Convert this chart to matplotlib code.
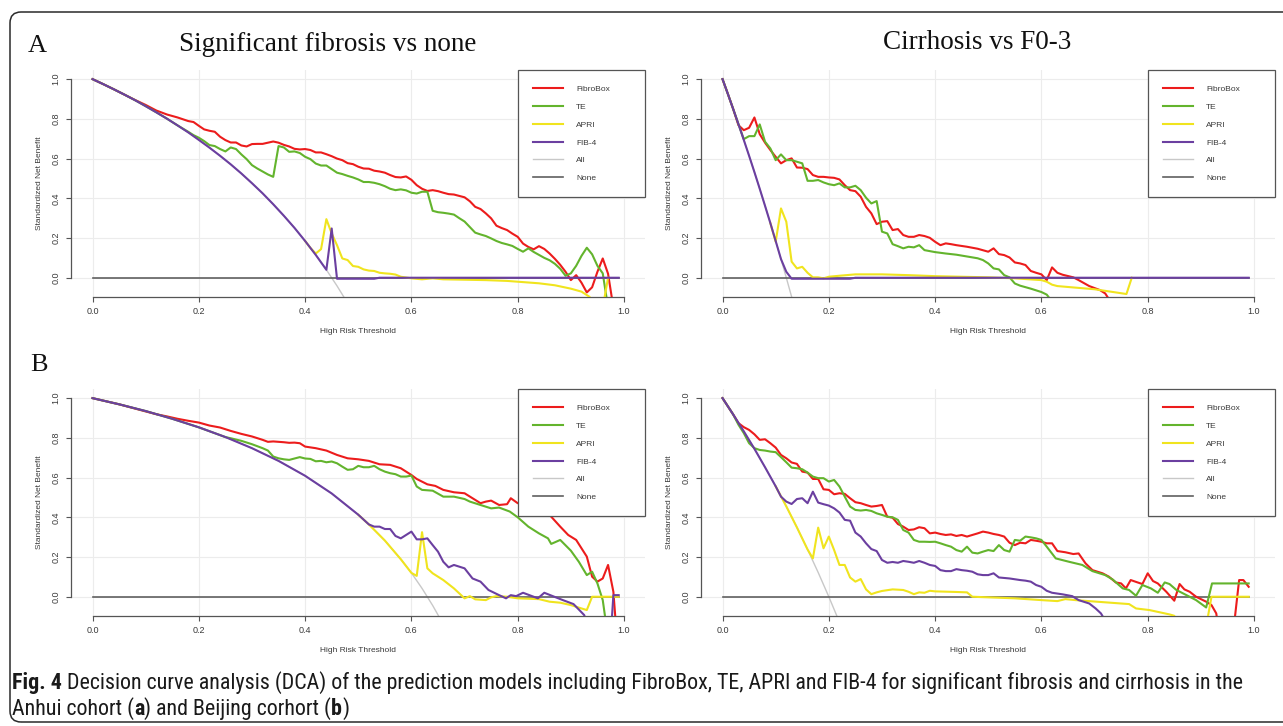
import matplotlib
matplotlib.use("Agg")
import matplotlib.pyplot as plt
from matplotlib import font_manager as fm
from matplotlib.patches import FancyBboxPatch
from matplotlib.transforms import IdentityTransform

# ---------------- DATA ----------------
SERIES = ["FibroBox", "TE", "APRI", "FIB-4", "All", "None"]
X_TICKS = [0.0, 0.2, 0.4, 0.6, 0.8, 1.0]
Y_TICKS = [0.0, 0.2, 0.4, 0.6, 0.8, 1.0]
NONE_X = [0.0, 0.99]
NONE_Y = [0.0, 0.0]

# Panel A, significant fibrosis vs none (Anhui)
AL_ALL_X = [0, 0.02, 0.04, 0.06, 0.08, 0.10, 0.12, 0.14, 0.16, 0.18, 0.20, 0.22, 0.24, 0.26, 0.28, 0.30, 0.32, 0.34, 0.36, 0.38, 0.40, 0.42, 0.44, 0.46, 0.48]
AL_ALL_Y = [1.0, 0.975, 0.949, 0.922, 0.894, 0.864, 0.833, 0.801, 0.767, 0.732, 0.694, 0.655, 0.614, 0.571, 0.525, 0.476, 0.425, 0.370, 0.312, 0.251, 0.185, 0.115, 0.040, -0.041, -0.128]
AL_FIBRO_X = [0, 0.02, 0.04, 0.06, 0.08, 0.10, 0.12, 0.14, 0.16, 0.18, 0.19, 0.20, 0.21, 0.22, 0.23, 0.24, 0.25, 0.26, 0.27, 0.28, 0.29, 0.30, 0.31, 0.32, 0.33, 0.34, 0.35, 0.36, 0.37, 0.38, 0.39, 0.40, 0.41, 0.42, 0.43, 0.44, 0.45, 0.46, 0.47, 0.48, 0.49, 0.50, 0.51, 0.52, 0.53, 0.54, 0.55, 0.56, 0.57, 0.58, 0.59, 0.60, 0.61, 0.62, 0.63, 0.64, 0.65, 0.66, 0.67, 0.68, 0.69, 0.70, 0.71, 0.72, 0.73, 0.74, 0.75, 0.76, 0.77, 0.78, 0.79, 0.80, 0.81, 0.82, 0.83, 0.84, 0.85, 0.86, 0.87, 0.88, 0.89, 0.90, 0.91, 0.92, 0.93, 0.94, 0.95, 0.96, 0.97, 0.98]
AL_FIBRO_Y = [1.0, 0.975, 0.949, 0.922, 0.895, 0.870, 0.842, 0.822, 0.807, 0.789, 0.784, 0.765, 0.747, 0.740, 0.735, 0.710, 0.693, 0.681, 0.681, 0.666, 0.661, 0.673, 0.674, 0.674, 0.680, 0.686, 0.680, 0.669, 0.661, 0.649, 0.646, 0.648, 0.643, 0.631, 0.631, 0.622, 0.612, 0.600, 0.592, 0.577, 0.572, 0.559, 0.550, 0.549, 0.539, 0.535, 0.529, 0.517, 0.507, 0.505, 0.510, 0.493, 0.466, 0.448, 0.437, 0.441, 0.436, 0.428, 0.421, 0.419, 0.412, 0.405, 0.385, 0.357, 0.346, 0.324, 0.299, 0.262, 0.250, 0.240, 0.222, 0.206, 0.172, 0.155, 0.143, 0.159, 0.145, 0.122, 0.095, 0.065, 0.030, -0.012, 0.013, -0.025, -0.074, -0.048, 0.030, 0.097, 0.020, -0.15]
AL_TE_X = [0, 0.02, 0.04, 0.06, 0.08, 0.10, 0.12, 0.14, 0.16, 0.18, 0.19, 0.20, 0.21, 0.22, 0.23, 0.24, 0.25, 0.26, 0.27, 0.28, 0.29, 0.30, 0.31, 0.32, 0.33, 0.34, 0.35, 0.36, 0.37, 0.38, 0.39, 0.40, 0.41, 0.42, 0.43, 0.44, 0.45, 0.46, 0.47, 0.48, 0.49, 0.50, 0.51, 0.52, 0.53, 0.54, 0.55, 0.56, 0.57, 0.58, 0.59, 0.60, 0.61, 0.62, 0.63, 0.64, 0.65, 0.66, 0.67, 0.68, 0.69, 0.70, 0.71, 0.72, 0.73, 0.74, 0.75, 0.76, 0.77, 0.78, 0.79, 0.80, 0.81, 0.82, 0.83, 0.84, 0.85, 0.86, 0.87, 0.88, 0.89, 0.90, 0.91, 0.92, 0.93, 0.94, 0.95, 0.96, 0.97]
AL_TE_Y = [1.0, 0.975, 0.949, 0.922, 0.894, 0.864, 0.833, 0.801, 0.767, 0.735, 0.718, 0.705, 0.688, 0.668, 0.663, 0.648, 0.636, 0.656, 0.648, 0.621, 0.597, 0.567, 0.550, 0.535, 0.520, 0.508, 0.663, 0.656, 0.634, 0.636, 0.628, 0.609, 0.597, 0.575, 0.565, 0.565, 0.547, 0.529, 0.522, 0.513, 0.505, 0.495, 0.482, 0.482, 0.478, 0.471, 0.461, 0.448, 0.441, 0.445, 0.440, 0.428, 0.424, 0.433, 0.433, 0.337, 0.330, 0.327, 0.323, 0.318, 0.300, 0.283, 0.255, 0.227, 0.218, 0.210, 0.198, 0.185, 0.175, 0.168, 0.160, 0.145, 0.131, 0.148, 0.130, 0.115, 0.100, 0.088, 0.070, 0.045, 0.010, 0.022, 0.060, 0.110, 0.151, 0.118, 0.060, 0.022, -0.15]
AL_APRI_X = [0.40, 0.41, 0.42, 0.43, 0.44, 0.45, 0.46, 0.47, 0.48, 0.49, 0.50, 0.51, 0.52, 0.53, 0.54, 0.55, 0.56, 0.57, 0.58, 0.60, 0.62, 0.64, 0.66, 0.70, 0.74, 0.78, 0.80, 0.84, 0.87, 0.90, 0.92, 0.935, 0.95, 0.96, 0.97]
AL_APRI_Y = [0.185, 0.150, 0.122, 0.144, 0.295, 0.223, 0.164, 0.097, 0.089, 0.059, 0.055, 0.042, 0.036, 0.034, 0.025, 0.022, 0.020, 0.016, 0.005, -0.003, -0.008, -0.003, -0.008, -0.010, -0.012, -0.016, -0.020, -0.028, -0.038, -0.055, -0.070, -0.096, -0.15, -0.15, 0.0]
AL_FIB4_X = [0, 0.02, 0.04, 0.06, 0.08, 0.10, 0.12, 0.14, 0.16, 0.18, 0.20, 0.22, 0.24, 0.26, 0.28, 0.30, 0.32, 0.34, 0.36, 0.38, 0.40, 0.42, 0.44, 0.45, 0.46, 0.53, 0.54, 0.99]
AL_FIB4_Y = [1.0, 0.975, 0.949, 0.922, 0.894, 0.864, 0.833, 0.801, 0.767, 0.732, 0.694, 0.655, 0.614, 0.571, 0.525, 0.476, 0.425, 0.370, 0.312, 0.251, 0.185, 0.115, 0.040, 0.248, -0.005, -0.005, 0.0, 0.0]

# Panel A, cirrhosis vs F0-3 (Anhui)
AR_ALL_X = [0, 0.01, 0.02, 0.03, 0.04, 0.05, 0.06, 0.07, 0.08, 0.09, 0.10, 0.11, 0.12, 0.13, 0.14]
AR_ALL_Y = [1.0, 0.926, 0.850, 0.773, 0.694, 0.614, 0.532, 0.448, 0.362, 0.275, 0.185, 0.094, 0.0, -0.096, -0.194]
AR_FIBRO_X = [0, 0.01, 0.02, 0.03, 0.04, 0.05, 0.06, 0.07, 0.08, 0.09, 0.10, 0.11, 0.12, 0.13, 0.14, 0.15, 0.16, 0.17, 0.18, 0.19, 0.20, 0.21, 0.22, 0.23, 0.24, 0.25, 0.26, 0.27, 0.28, 0.29, 0.30, 0.31, 0.32, 0.33, 0.34, 0.35, 0.36, 0.37, 0.38, 0.39, 0.40, 0.41, 0.42, 0.43, 0.44, 0.46, 0.48, 0.50, 0.51, 0.52, 0.53, 0.54, 0.55, 0.56, 0.57, 0.58, 0.59, 0.60, 0.61, 0.62, 0.63, 0.64, 0.66, 0.67, 0.69, 0.70, 0.71, 0.72, 0.73]
AR_FIBRO_Y = [1.0, 0.926, 0.850, 0.768, 0.743, 0.755, 0.807, 0.723, 0.680, 0.643, 0.609, 0.576, 0.592, 0.601, 0.555, 0.554, 0.547, 0.517, 0.508, 0.508, 0.505, 0.503, 0.495, 0.466, 0.441, 0.436, 0.408, 0.357, 0.324, 0.270, 0.282, 0.285, 0.240, 0.245, 0.215, 0.206, 0.206, 0.215, 0.210, 0.201, 0.181, 0.164, 0.173, 0.169, 0.164, 0.156, 0.146, 0.131, 0.148, 0.119, 0.114, 0.102, 0.077, 0.072, 0.064, 0.034, 0.025, 0.017, -0.012, 0.052, 0.025, 0.015, 0.002, -0.012, -0.042, -0.052, -0.062, -0.079, -0.12]
AR_TE_X = [0, 0.01, 0.02, 0.03, 0.04, 0.05, 0.06, 0.07, 0.08, 0.09, 0.10, 0.11, 0.12, 0.13, 0.14, 0.15, 0.16, 0.17, 0.18, 0.19, 0.20, 0.21, 0.22, 0.23, 0.24, 0.25, 0.26, 0.27, 0.28, 0.29, 0.30, 0.31, 0.32, 0.33, 0.34, 0.35, 0.36, 0.37, 0.38, 0.39, 0.40, 0.42, 0.44, 0.46, 0.48, 0.49, 0.50, 0.51, 0.52, 0.53, 0.54, 0.55, 0.56, 0.58, 0.60, 0.61, 0.62]
AR_TE_Y = [1.0, 0.926, 0.850, 0.773, 0.698, 0.713, 0.713, 0.772, 0.685, 0.651, 0.592, 0.621, 0.592, 0.592, 0.584, 0.576, 0.488, 0.488, 0.492, 0.480, 0.471, 0.466, 0.475, 0.455, 0.455, 0.463, 0.441, 0.403, 0.374, 0.386, 0.232, 0.223, 0.169, 0.159, 0.148, 0.156, 0.153, 0.164, 0.139, 0.134, 0.129, 0.122, 0.116, 0.107, 0.098, 0.089, 0.072, 0.047, 0.042, 0.013, 0.002, -0.029, -0.040, -0.055, -0.072, -0.085, -0.12]
AR_APRI_X = [0.09, 0.10, 0.11, 0.12, 0.13, 0.14, 0.15, 0.16, 0.17, 0.18, 0.19, 0.20, 0.22, 0.25, 0.30, 0.35, 0.40, 0.45, 0.50, 0.55, 0.60, 0.61, 0.62, 0.63, 0.70, 0.76, 0.77]
AR_APRI_Y = [0.275, 0.181, 0.349, 0.282, 0.081, 0.047, 0.055, 0.025, 0.002, 0.002, -0.003, 0.005, 0.010, 0.017, 0.017, 0.013, 0.008, 0.005, 0.002, -0.003, -0.012, -0.020, -0.035, -0.042, -0.058, -0.082, 0.0]
AR_FIB4_X = [0, 0.01, 0.02, 0.03, 0.04, 0.05, 0.06, 0.07, 0.08, 0.09, 0.10, 0.11, 0.12, 0.13, 0.24, 0.25, 0.99]
AR_FIB4_Y = [1.0, 0.926, 0.850, 0.773, 0.694, 0.614, 0.532, 0.448, 0.362, 0.275, 0.185, 0.094, 0.030, -0.005, -0.005, 0.0, 0.0]

# Panel B, significant fibrosis vs none (Beijing)
BL_ALL_X = [0, 0.05, 0.10, 0.15, 0.20, 0.25, 0.30, 0.35, 0.40, 0.45, 0.50, 0.52, 0.55, 0.58, 0.60, 0.62, 0.64, 0.66]
BL_ALL_Y = [1.0, 0.969, 0.935, 0.896, 0.853, 0.804, 0.748, 0.684, 0.609, 0.520, 0.413, 0.364, 0.283, 0.189, 0.120, 0.042, -0.044, -0.139]
BL_FIBRO_X = [0, 0.05, 0.10, 0.12, 0.14, 0.16, 0.18, 0.20, 0.22, 0.24, 0.26, 0.28, 0.30, 0.32, 0.33, 0.34, 0.36, 0.37, 0.38, 0.39, 0.40, 0.42, 0.44, 0.46, 0.48, 0.50, 0.52, 0.54, 0.56, 0.58, 0.60, 0.61, 0.63, 0.645, 0.66, 0.68, 0.70, 0.715, 0.73, 0.74, 0.75, 0.765, 0.78, 0.787, 0.80, 0.82, 0.84, 0.86, 0.88, 0.895, 0.91, 0.93, 0.94, 0.95, 0.96, 0.97, 0.98, 0.985]
BL_FIBRO_Y = [1.0, 0.969, 0.933, 0.919, 0.908, 0.896, 0.886, 0.877, 0.862, 0.852, 0.835, 0.820, 0.807, 0.790, 0.780, 0.782, 0.778, 0.775, 0.776, 0.773, 0.756, 0.748, 0.736, 0.714, 0.697, 0.692, 0.684, 0.667, 0.664, 0.647, 0.613, 0.593, 0.566, 0.558, 0.538, 0.526, 0.521, 0.496, 0.471, 0.479, 0.484, 0.462, 0.466, 0.496, 0.471, 0.462, 0.440, 0.412, 0.353, 0.311, 0.286, 0.202, 0.101, 0.076, 0.092, 0.160, 0.025, -0.15]
BL_TE_X = [0, 0.05, 0.10, 0.15, 0.20, 0.25, 0.26, 0.28, 0.30, 0.32, 0.33, 0.34, 0.35, 0.36, 0.37, 0.38, 0.39, 0.40, 0.41, 0.42, 0.43, 0.44, 0.45, 0.46, 0.47, 0.48, 0.49, 0.50, 0.51, 0.52, 0.53, 0.54, 0.55, 0.56, 0.57, 0.58, 0.59, 0.60, 0.61, 0.62, 0.64, 0.66, 0.68, 0.70, 0.71, 0.73, 0.75, 0.765, 0.785, 0.80, 0.82, 0.84, 0.857, 0.863, 0.88, 0.90, 0.915, 0.93, 0.94, 0.95, 0.96, 0.967]
BL_TE_Y = [1.0, 0.969, 0.935, 0.896, 0.853, 0.804, 0.798, 0.785, 0.768, 0.748, 0.736, 0.706, 0.697, 0.692, 0.689, 0.696, 0.703, 0.696, 0.694, 0.682, 0.684, 0.677, 0.681, 0.672, 0.655, 0.639, 0.642, 0.659, 0.652, 0.652, 0.659, 0.642, 0.630, 0.622, 0.617, 0.605, 0.605, 0.610, 0.555, 0.538, 0.534, 0.504, 0.504, 0.492, 0.479, 0.462, 0.445, 0.449, 0.429, 0.400, 0.353, 0.319, 0.294, 0.266, 0.286, 0.232, 0.176, 0.109, 0.126, 0.067, -0.017, -0.15]
BL_APRI_X = [0.50, 0.52, 0.55, 0.58, 0.60, 0.61, 0.62, 0.63, 0.64, 0.66, 0.68, 0.69, 0.70, 0.71, 0.72, 0.74, 0.75, 0.76, 0.78, 0.80, 0.84, 0.86, 0.88, 0.90, 0.92, 0.93, 0.94, 0.99]
BL_APRI_Y = [0.413, 0.364, 0.283, 0.189, 0.120, 0.105, 0.325, 0.143, 0.118, 0.084, 0.042, 0.017, -0.008, 0.003, -0.013, -0.017, -0.003, 0.003, 0.0, -0.008, -0.012, -0.025, -0.030, -0.042, -0.059, -0.067, 0.0, 0.0]
BL_FIB4_X = [0, 0.05, 0.10, 0.15, 0.20, 0.25, 0.30, 0.35, 0.40, 0.45, 0.50, 0.52, 0.53, 0.54, 0.55, 0.56, 0.57, 0.58, 0.59, 0.60, 0.61, 0.62, 0.63, 0.64, 0.65, 0.66, 0.67, 0.68, 0.70, 0.715, 0.73, 0.745, 0.765, 0.778, 0.787, 0.797, 0.81, 0.822, 0.838, 0.85, 0.866, 0.885, 0.905, 0.925, 0.94, 0.975, 0.98, 0.99]
BL_FIB4_Y = [1.0, 0.969, 0.935, 0.896, 0.853, 0.804, 0.748, 0.684, 0.609, 0.520, 0.413, 0.364, 0.353, 0.353, 0.341, 0.341, 0.306, 0.294, 0.311, 0.328, 0.289, 0.289, 0.294, 0.260, 0.227, 0.176, 0.148, 0.160, 0.143, 0.092, 0.076, 0.034, 0.008, -0.008, 0.008, 0.003, 0.020, 0.008, -0.008, 0.020, 0.003, -0.017, -0.037, -0.092, -0.2, -0.2, 0.008, 0.008]

# Panel B, cirrhosis vs F0-3 (Beijing)
BR_ALL_X = [0, 0.02, 0.04, 0.06, 0.08, 0.10, 0.12, 0.14, 0.16, 0.18, 0.20, 0.22]
BR_ALL_Y = [1.0, 0.918, 0.833, 0.745, 0.652, 0.556, 0.455, 0.349, 0.238, 0.122, 0.0, -0.128]
BR_FIBRO_X = [0, 0.02, 0.03, 0.04, 0.05, 0.06, 0.07, 0.08, 0.09, 0.10, 0.11, 0.12, 0.13, 0.14, 0.15, 0.16, 0.17, 0.18, 0.19, 0.20, 0.21, 0.22, 0.23, 0.24, 0.25, 0.26, 0.27, 0.28, 0.29, 0.30, 0.31, 0.32, 0.33, 0.34, 0.35, 0.36, 0.37, 0.38, 0.39, 0.40, 0.41, 0.42, 0.43, 0.44, 0.45, 0.46, 0.47, 0.48, 0.49, 0.50, 0.51, 0.52, 0.53, 0.54, 0.55, 0.56, 0.57, 0.58, 0.59, 0.60, 0.61, 0.62, 0.63, 0.645, 0.66, 0.67, 0.683, 0.696, 0.715, 0.727, 0.74, 0.75, 0.759, 0.768, 0.781, 0.79, 0.80, 0.81, 0.819, 0.835, 0.85, 0.86, 0.869, 0.879, 0.891, 0.91, 0.92, 0.929, 0.935, 0.96, 0.972, 0.98, 0.99]
BR_FIBRO_Y = [1.0, 0.918, 0.874, 0.854, 0.840, 0.818, 0.790, 0.793, 0.773, 0.751, 0.714, 0.697, 0.676, 0.669, 0.630, 0.625, 0.593, 0.593, 0.541, 0.538, 0.516, 0.521, 0.518, 0.496, 0.476, 0.471, 0.462, 0.454, 0.457, 0.462, 0.403, 0.398, 0.366, 0.353, 0.336, 0.339, 0.350, 0.345, 0.319, 0.323, 0.316, 0.311, 0.314, 0.306, 0.311, 0.303, 0.311, 0.319, 0.328, 0.323, 0.316, 0.311, 0.303, 0.272, 0.260, 0.272, 0.269, 0.286, 0.282, 0.277, 0.269, 0.269, 0.230, 0.224, 0.215, 0.218, 0.168, 0.134, 0.118, 0.101, 0.072, 0.067, 0.042, 0.084, 0.072, 0.064, 0.118, 0.079, 0.067, 0.025, -0.020, 0.064, 0.037, 0.025, 0.0, -0.025, -0.042, -0.084, -0.2, -0.2, 0.084, 0.084, 0.050]
BR_TE_X = [0, 0.02, 0.03, 0.04, 0.05, 0.06, 0.07, 0.08, 0.09, 0.10, 0.11, 0.12, 0.13, 0.14, 0.15, 0.16, 0.17, 0.18, 0.19, 0.20, 0.21, 0.22, 0.23, 0.24, 0.25, 0.26, 0.27, 0.28, 0.29, 0.30, 0.31, 0.32, 0.33, 0.34, 0.35, 0.36, 0.37, 0.38, 0.39, 0.40, 0.41, 0.42, 0.43, 0.44, 0.45, 0.46, 0.47, 0.48, 0.49, 0.50, 0.51, 0.52, 0.53, 0.54, 0.55, 0.56, 0.57, 0.58, 0.59, 0.60, 0.61, 0.627, 0.652, 0.677, 0.696, 0.72, 0.734, 0.753, 0.765, 0.778, 0.79, 0.806, 0.819, 0.832, 0.841, 0.854, 0.873, 0.891, 0.91, 0.921, 0.99]
BR_TE_Y = [1.0, 0.918, 0.866, 0.824, 0.773, 0.748, 0.739, 0.736, 0.731, 0.728, 0.703, 0.677, 0.650, 0.647, 0.642, 0.625, 0.605, 0.597, 0.597, 0.580, 0.588, 0.555, 0.504, 0.454, 0.437, 0.434, 0.437, 0.432, 0.420, 0.412, 0.403, 0.400, 0.387, 0.336, 0.323, 0.286, 0.277, 0.277, 0.276, 0.277, 0.269, 0.260, 0.252, 0.235, 0.227, 0.252, 0.222, 0.218, 0.227, 0.235, 0.230, 0.260, 0.235, 0.227, 0.286, 0.282, 0.303, 0.299, 0.294, 0.286, 0.252, 0.193, 0.176, 0.160, 0.129, 0.109, 0.087, 0.042, 0.034, 0.005, 0.059, 0.042, 0.020, 0.072, 0.064, 0.034, 0.008, -0.017, -0.054, 0.067, 0.067]
BR_APRI_X = [0.10, 0.12, 0.14, 0.16, 0.17, 0.18, 0.19, 0.20, 0.21, 0.22, 0.23, 0.24, 0.25, 0.26, 0.27, 0.28, 0.29, 0.30, 0.32, 0.34, 0.35, 0.36, 0.37, 0.38, 0.39, 0.40, 0.44, 0.46, 0.47, 0.50, 0.55, 0.60, 0.63, 0.645, 0.664, 0.765, 0.778, 0.803, 0.841, 0.85, 0.86, 0.91, 0.92, 0.99]
BR_APRI_Y = [0.556, 0.455, 0.349, 0.238, 0.193, 0.348, 0.244, 0.303, 0.235, 0.160, 0.160, 0.097, 0.076, 0.089, 0.037, 0.013, 0.022, 0.029, 0.037, 0.034, 0.025, 0.013, 0.022, 0.020, 0.030, 0.027, 0.024, 0.022, 0.0, -0.003, -0.008, -0.017, -0.022, -0.012, -0.017, -0.037, -0.059, -0.067, -0.089, -0.096, -0.15, -0.15, 0.0, 0.0]
BR_FIB4_X = [0, 0.02, 0.04, 0.06, 0.08, 0.10, 0.11, 0.12, 0.13, 0.14, 0.15, 0.16, 0.17, 0.18, 0.19, 0.20, 0.21, 0.22, 0.23, 0.24, 0.25, 0.26, 0.27, 0.28, 0.29, 0.30, 0.31, 0.32, 0.33, 0.34, 0.35, 0.36, 0.37, 0.38, 0.39, 0.40, 0.41, 0.42, 0.43, 0.44, 0.45, 0.46, 0.47, 0.48, 0.49, 0.50, 0.51, 0.52, 0.54, 0.56, 0.57, 0.58, 0.59, 0.60, 0.61, 0.62, 0.64, 0.658, 0.67, 0.69, 0.702, 0.712, 0.72]
BR_FIB4_Y = [1.0, 0.918, 0.833, 0.745, 0.652, 0.556, 0.504, 0.479, 0.467, 0.492, 0.496, 0.471, 0.529, 0.474, 0.466, 0.459, 0.445, 0.424, 0.387, 0.383, 0.323, 0.303, 0.269, 0.240, 0.230, 0.185, 0.171, 0.175, 0.171, 0.180, 0.176, 0.171, 0.180, 0.171, 0.160, 0.155, 0.134, 0.129, 0.129, 0.139, 0.134, 0.131, 0.126, 0.113, 0.109, 0.109, 0.118, 0.097, 0.092, 0.084, 0.081, 0.076, 0.059, 0.050, 0.030, 0.020, 0.012, 0.003, -0.017, -0.034, -0.059, -0.084, -0.12]

# ---------------- STYLE ----------------
COLORS = {"FibroBox": "#EC1C1C", "TE": "#63B42D", "APRI": "#F0E41E",
          "FIB-4": "#6B3FA0", "All": "#C8C8C8", "None": "#606060"}
W, H = 1283, 726
fig = plt.figure(figsize=(W / 100, H / 100), dpi=100)
fig.patch.set_facecolor("white")

SANS = ["Liberation Sans", "DejaVu Sans"]
SERIF = ["Liberation Serif", "DejaVu Serif"]
TXT = "#3a3a3a"

def px_axes(left, top, right, bottom):
    return fig.add_axes([left / W, 1 - bottom / H, (right - left) / W, (bottom - top) / H])

panels = [
    (px_axes(71, 70, 645, 297), AL_ALL_X, AL_ALL_Y, AL_FIBRO_X, AL_FIBRO_Y, AL_TE_X, AL_TE_Y,
     AL_APRI_X, AL_APRI_Y, AL_FIB4_X, AL_FIB4_Y),
    (px_axes(701, 70, 1275, 297), AR_ALL_X, AR_ALL_Y, AR_FIBRO_X, AR_FIBRO_Y, AR_TE_X, AR_TE_Y,
     AR_APRI_X, AR_APRI_Y, AR_FIB4_X, AR_FIB4_Y),
    (px_axes(71, 389, 645, 616), BL_ALL_X, BL_ALL_Y, BL_FIBRO_X, BL_FIBRO_Y, BL_TE_X, BL_TE_Y,
     BL_APRI_X, BL_APRI_Y, BL_FIB4_X, BL_FIB4_Y),
    (px_axes(701, 389, 1275, 616), BR_ALL_X, BR_ALL_Y, BR_FIBRO_X, BR_FIBRO_Y, BR_TE_X, BR_TE_Y,
     BR_APRI_X, BR_APRI_Y, BR_FIB4_X, BR_FIB4_Y),
]

for (ax, ax_x, ax_y, fx, fy, tx, ty, apx, apy, f4x, f4y) in panels:
    ax.set_xlim(-0.0405, 1.0395)
    ax.set_ylim(-0.097, 1.046)
    ax.set_xticks(X_TICKS)
    ax.set_yticks(Y_TICKS)
    ax.set_xticklabels([f"{v:.1f}" for v in X_TICKS])
    ax.set_yticklabels([f"{v:.1f}" for v in Y_TICKS])
    ax.grid(True, color="#ececec", linewidth=0.8)
    ax.set_axisbelow(True)
    for s in ("top", "right"):
        ax.spines[s].set_visible(False)
    for s in ("left", "bottom"):
        ax.spines[s].set_color("#555555")
        ax.spines[s].set_linewidth(0.9)
    ax.spines["left"].set_bounds(0, 1)
    ax.spines["bottom"].set_bounds(0, 1)
    ax.tick_params(axis="both", colors="#555555", labelcolor=TXT, length=3.6, width=0.8,
                   labelsize=6.5)
    ax.tick_params(axis="x", pad=3.5)
    ax.tick_params(axis="y", pad=4, labelrotation=90)
    for lab in ax.get_yticklabels():
        lab.set_va("center")
        lab.set_family(SANS)
    for lab in ax.get_xticklabels():
        lab.set_family(SANS)
    ax.set_xlabel("High Risk Threshold", fontsize=6, color=TXT, family=SANS, labelpad=9)
    ax.set_ylabel("Standardized Net Benefit", fontsize=6, color=TXT, family=SANS, labelpad=6)

    ax.plot(ax_x, ax_y, color=COLORS["All"], lw=1.0, label="All", zorder=2)
    ax.plot(NONE_X, NONE_Y, color=COLORS["None"], lw=1.2, label="None", zorder=2)
    ax.plot(fx, fy, color=COLORS["FibroBox"], lw=1.5, label="FibroBox", zorder=3)
    ax.plot(tx, ty, color=COLORS["TE"], lw=1.5, label="TE", zorder=3)
    ax.plot(apx, apy, color=COLORS["APRI"], lw=1.5, label="APRI", zorder=3)
    ax.plot(f4x, f4y, color=COLORS["FIB-4"], lw=1.5, label="FIB-4", zorder=4)

    handles, labels = ax.get_legend_handles_labels()
    order = [labels.index(s) for s in SERIES]
    leg = ax.legend([handles[i] for i in order], [labels[i] for i in order],
                    loc="upper left", bbox_to_anchor=(0.7787, 0.0, 0.2213, 1.0),
                    mode="expand", borderaxespad=0, fancybox=False, framealpha=1,
                    edgecolor="#555555", handlelength=3.5, handletextpad=1.6,
                    borderpad=1.85, labelspacing=1.19, prop={"family": SANS, "size": 6})
    leg.get_frame().set_linewidth(0.9)
    for t in leg.get_texts():
        t.set_color(TXT)
    leg.set_zorder(10)

# ---------------- TITLES ----------------
def ftext(xp, yp, s, **kw):
    return fig.text(xp / W, 1 - yp / H, s, **kw)

ftext(28, 52, "A", fontsize=19, family=SERIF, va="baseline", ha="left", color="#111111")
ftext(328, 51, "Significant fibrosis vs none", fontsize=19.5, family=SERIF, va="baseline",
      ha="center", color="#111111")
ftext(977, 49, "Cirrhosis vs F0-3", fontsize=19.5, family=SERIF, va="baseline",
      ha="center", color="#111111")
ftext(30, 371, "B", fontsize=19, family=SERIF, va="baseline", ha="left", color="#111111")

# ---------------- CAPTION ----------------
def pick_condensed():
    entries = fm.fontManager.ttflist
    names = {f.name for f in entries}
    for n in ["Liberation Sans Narrow", "Roboto Condensed", "Open Sans Condensed",
              "Noto Sans Condensed", "DejaVu Sans Condensed", "Arial Narrow"]:
        if n in names:
            return {"family": [n, "DejaVu Sans"]}
    for f in entries:
        st = str(f.stretch).lower()
        if ("condensed" in st or "narrow" in st) and "mono" not in f.name.lower() \
                and "serif" not in f.name.lower():
            return {"family": [f.name, "DejaVu Sans"], "fontstretch": f.stretch}
    for f in entries:
        if ("Condensed" in f.name or "Narrow" in f.name) and "Mono" not in f.name:
            return {"family": [f.name, "DejaVu Sans"]}
    return {"family": ["Liberation Sans", "DejaVu Sans"]}

CAP_KW = pick_condensed()
renderer = fig.canvas.get_renderer()

def measure(s, size, weight):
    t = fig.text(0, 0, s, fontsize=size, fontweight=weight, **CAP_KW)
    w = t.get_window_extent(renderer).width
    t.remove()
    return w

def space_w(size, weight):
    return measure("a a", size, weight) - measure("aa", size, weight)

line1 = [("Fig. 4", "bold", False),
         ("Decision curve analysis (DCA) of the prediction models including FibroBox, TE, APRI and FIB-4 for significant fibrosis and cirrhosis in the", "normal", True)]
line2 = [("Anhui cohort (", "normal", False), ("a", "bold", False),
         (") and Beijing corhort (", "normal", False), ("b", "bold", False), (")", "normal", False)]

base = 14.0
tot = sum(measure(s, base, w) + (space_w(base, w) if sp else 0) for s, w, sp in line1)
cap_size = base * (1240.0 / tot)

def draw_line(pieces, x0, yb):
    x = x0
    for s, w, sp in pieces:
        if sp:
            x += space_w(cap_size, w)
        t = ftext(x, yb, s, fontsize=cap_size, fontweight=w, va="baseline", ha="left",
                  color="#1a1a1a", **CAP_KW)
        x += t.get_window_extent(renderer).width

draw_line(line1, 12, 689)
draw_line(line2, 12, 715)

# ---------------- BORDER ----------------
border = FancyBboxPatch((10, 4), 1300, 710, boxstyle="round,pad=0,rounding_size=11",
                        transform=IdentityTransform(), fill=False, edgecolor="#2a2a2a",
                        linewidth=1.1)
fig.add_artist(border)

fig.savefig("out.png", dpi=100, facecolor="white")
